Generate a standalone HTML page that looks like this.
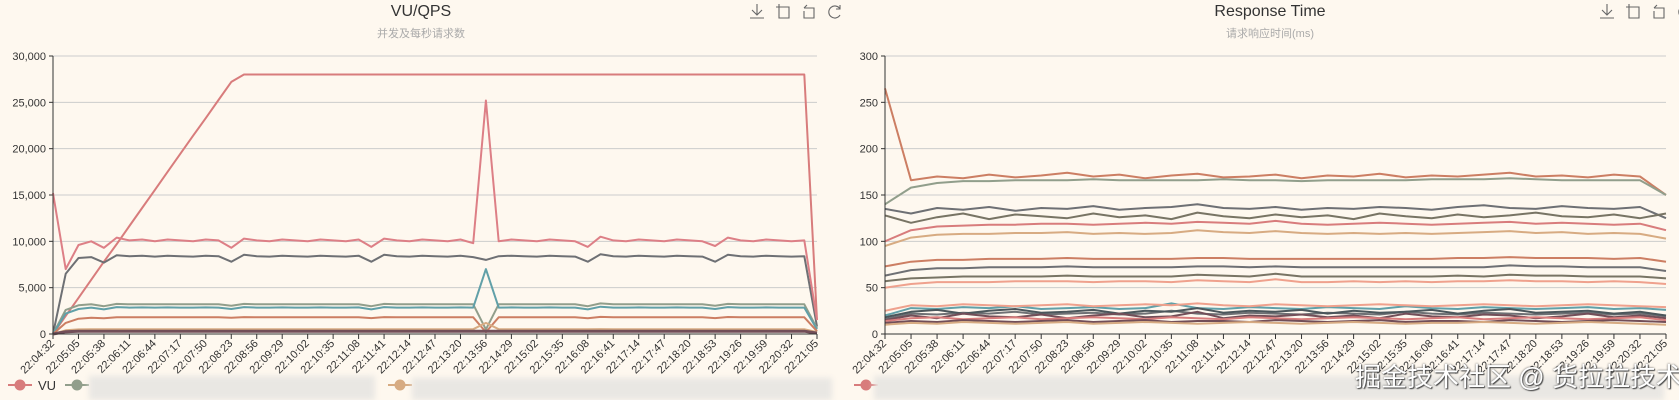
<!DOCTYPE html>
<html><head><meta charset="utf-8"><style>
html,body{margin:0;padding:0;background:#fef8ef;}
body{width:1679px;height:400px;overflow:hidden;position:relative;font-family:"Liberation Sans","Noto Sans CJK SC",sans-serif;}
svg{position:absolute;left:0;top:0;}
.blur{position:absolute;background:#e9e7e3;filter:blur(3px);}
.wm{position:absolute;left:1355px;top:357px;font-size:26px;color:#fff;text-shadow:0 0 2px #555,1px 1px 1px #444;font-family:"Liberation Sans","Noto Sans CJK SC",sans-serif;white-space:nowrap;}
</style></head><body>
<svg id="chart" width="1679" height="400"></svg>
<div class="blur" style="left:89px;top:376px;width:286px;height:24px"></div>
<div class="blur" style="left:412px;top:378px;width:420px;height:22px"></div>
<div class="blur" style="left:874px;top:376px;width:790px;height:24px"></div>
<div class="wm">掘金技术社区 @ 货拉拉技术</div>
<script>
const xLabels = ["22:04:32","22:05:05","22:05:38","22:06:11","22:06:44","22:07:17","22:07:50","22:08:23","22:08:56","22:09:29","22:10:02","22:10:35","22:11:08","22:11:41","22:12:14","22:12:47","22:13:20","22:13:56","22:14:29","22:15:02","22:15:35","22:16:08","22:16:41","22:17:14","22:17:47","22:18:20","22:18:53","22:19:26","22:19:59","22:20:32","22:21:05"];
const leftTicks = [0,5000,10000,15000,20000,25000,30000];
const leftTickLabels = ["0","5,000","10,000","15,000","20,000","25,000","30,000"];
const rightTicks = [0,50,100,150,200,250,300];
const rightTickLabels = ["0","50","100","150","200","250","300"];

const vu = [0,1950,3900,5850,7800,9700,11650,13600,15550,17500,19450,21400,23300,25250,27200,28000,28000,28000,28000,28000,28000,28000,28000,28000,28000,28000,28000,28000,28000,28000,28000,28000,28000,28000,28000,28000,28000,28000,28000,28000,28000,28000,28000,28000,28000,28000,28000,28000,28000,28000,28000,28000,28000,28000,28000,28000,28000,28000,28000,28000,1500];
const qpsTotal = [15200,7000,9600,10000,9300,10400,10100,10200,10000,10200,10100,10000,10200,10100,9300,10300,10100,10000,10200,10100,10000,10200,10100,10000,10200,9400,10300,10100,10000,10200,10100,10000,10200,9800,25200,10000,10200,10100,10000,10200,10100,10000,9400,10500,10100,10000,10200,10100,10000,10200,10100,10000,9500,10400,10100,10000,10200,10100,10000,10100,1500];
const qpsA = [0,6500,8200,8300,7700,8500,8400,8450,8350,8450,8400,8350,8450,8400,7800,8550,8400,8350,8450,8400,8350,8450,8400,8350,8450,7800,8550,8400,8350,8450,8400,8350,8450,8300,8000,8400,8450,8400,8350,8450,8400,8350,7800,8600,8400,8350,8450,8400,8350,8450,8400,8350,7800,8550,8400,8350,8450,8400,8350,8400,800];
const qpsB = [0,2600,3100,3200,3000,3250,3200,3220,3200,3220,3200,3200,3220,3200,3050,3250,3200,3200,3220,3200,3200,3220,3200,3200,3220,3000,3250,3200,3200,3220,3200,3200,3220,3200,500,3200,3220,3200,3200,3220,3200,3200,3000,3300,3200,3200,3220,3200,3200,3220,3200,3200,3050,3250,3200,3200,3220,3200,3200,3200,600];
const qpsC = [0,2200,2700,2850,2650,2900,2850,2870,2850,2870,2850,2850,2870,2850,2700,2900,2850,2850,2870,2850,2850,2870,2850,2850,2870,2650,2900,2850,2850,2870,2850,2850,2870,2850,7000,2850,2870,2850,2850,2870,2850,2850,2650,2950,2850,2850,2870,2850,2850,2870,2850,2850,2700,2900,2850,2850,2870,2850,2850,2850,500];
const qpsD = [0,1200,1650,1750,1700,1800,1800,1810,1800,1810,1800,1800,1810,1800,1750,1820,1800,1800,1810,1800,1800,1810,1800,1800,1810,1720,1820,1800,1800,1810,1800,1800,1810,1800,200,1800,1810,1800,1800,1810,1800,1800,1700,1850,1800,1800,1810,1800,1800,1810,1800,1800,1720,1830,1800,1800,1810,1800,1800,1800,300];
const qpsE = [0,400,500,520,510,520,520,520,520,520,520,520,520,520,510,520,520,520,520,520,520,520,520,520,520,510,520,520,520,520,520,520,520,520,1200,520,520,520,520,520,520,520,510,530,520,520,520,520,520,520,520,520,510,520,520,520,520,520,520,520,200];
const qpsF = [0,250,300,300,300,300,300,300,300,300,300,300,300,300,300,300,300,300,300,300,300,300,300,300,300,300,300,300,300,300,300,300,300,300,300,300,300,300,300,300,300,300,300,300,300,300,300,300,300,300,300,300,300,300,300,300,300,300,300,300,100];

const r1 = [265,166,170,168,172,169,171,174,170,172,168,171,173,169,170,172,168,171,170,173,169,171,170,172,174,170,171,169,172,170,150];
const r2 = [140,158,163,165,165,166,166,166,167,166,166,166,166,167,166,166,165,166,166,166,166,167,167,167,168,167,166,166,166,166,150];
const r3 = [135,130,136,134,137,133,136,135,138,134,136,137,140,136,135,137,134,136,135,137,136,134,137,139,136,135,138,136,135,137,125];
const r4 = [128,120,126,130,124,129,127,125,130,126,128,124,131,127,125,129,126,128,124,130,127,125,129,126,128,131,127,126,129,125,130];
const r5 = [100,112,116,117,118,118,119,119,118,119,120,119,121,120,119,122,119,118,119,120,119,118,119,120,121,119,120,119,118,119,112];
const r6 = [95,104,107,108,108,109,109,110,108,109,108,109,112,110,109,111,109,108,109,108,109,108,109,110,111,109,110,108,109,108,103];
const r7 = [73,78,80,80,81,81,81,82,81,81,81,81,82,82,81,81,81,81,81,81,81,81,82,82,83,82,82,82,81,82,78];
const r8 = [63,69,71,71,72,72,72,73,72,72,72,72,73,73,72,73,72,72,72,72,72,72,72,72,74,73,73,72,72,72,68];
const r9 = [57,60,61,62,62,62,62,63,62,62,62,62,64,63,62,65,62,62,62,62,62,62,63,62,64,63,63,62,62,62,60];
const r10 = [50,54,56,56,56,57,57,57,56,57,57,56,58,57,56,59,56,56,57,56,57,56,57,57,58,57,57,56,57,56,54];
const l1 = [20,28,27,29,28,30,27,28,29,27,28,33,28,27,29,28,27,29,28,27,30,28,27,29,28,27,28,29,27,28,26];
const l2 = [25,31,30,32,31,30,31,32,30,31,32,31,33,31,30,32,31,30,31,32,31,30,31,32,31,30,31,32,31,30,29];
const l3 = [18,24,26,22,25,27,23,24,26,22,25,24,28,23,25,24,26,22,25,23,24,26,22,25,27,23,24,25,22,24,20];
const l4 = [15,20,17,22,19,18,21,17,20,22,18,19,24,17,20,19,21,18,20,17,22,19,18,21,20,17,19,22,18,20,17];
const l5 = [12,14,13,15,14,13,14,15,13,14,15,13,14,14,13,15,14,13,14,15,13,14,14,13,15,14,13,14,15,14,13];
const l6 = [14,17,18,16,17,18,16,17,18,17,16,18,17,16,18,17,16,17,18,17,16,17,18,16,17,18,17,16,17,18,15];
const l7 = [10,12,11,13,12,11,12,13,11,12,13,12,11,12,13,12,11,12,13,12,11,12,12,13,12,11,12,13,12,11,10];
const l8 = [16,22,21,23,22,24,21,22,23,21,22,25,22,21,23,22,21,23,22,21,24,22,21,23,22,21,22,23,21,22,19];

const NS = "http://www.w3.org/2000/svg";
const svg = document.getElementById("chart");
function mk(tag, attrs, parent) {
  const e = document.createElementNS(NS, tag);
  for (const k in attrs) e.setAttribute(k, attrs[k]);
  (parent || svg).appendChild(e);
  return e;
}

function drawChart(prefix, x0, x1, y0, y1, yMax, ticks, tickLabels, series, title, subtitle, titleX, iconX) {
  const g = mk("g", {});
  
  
  const yScale = v => y0 - (v / yMax) * (y0 - y1);
  const xScaleTick = i => x0 + i * (x1 - x0) / (xLabels.length - 1);
  // title
  const t = mk("text", {x: titleX, y: 16, "text-anchor": "middle", "font-size": 16, fill: "#333"}, g);
  t.textContent = title;
  
  
  const st = mk("text", {x: titleX, y: 37, "text-anchor": "middle", "font-size": 11, fill: "#aaa"}, g);
  st.textContent = subtitle;
  
  
  // grid + y ticks
  ticks.forEach((v, i) => {
    const y = yScale(v);
    if (v > 0) {
      const gl = mk("line", {x1: x0, x2: x1, y1: y, y2: y, stroke: "#ccc", "stroke-width": 1}, g);
      
      
    }
    mk("line", {x1: x0 - 4, x2: x0, y1: y, y2: y, stroke: "#333"}, g);
    const lb = mk("text", {x: x0 - 7, y: y + 4, "text-anchor": "end", "font-size": 11, fill: "#333"}, g);
    lb.textContent = tickLabels[i];
    
    
  });
  // x ticks
  xLabels.forEach((s, i) => {
    const x = xScaleTick(i);
    mk("line", {x1: x, x2: x, y1: y0, y2: y0 + 5, stroke: "#333"}, g);
    const lb = mk("text", {x: x + 2, y: y0 + 10, "text-anchor": "end", "font-size": 11, fill: "#333", transform: `rotate(-45 ${x + 2} ${y0 + 10})`}, g);
    lb.textContent = s;
    
    
  });
  // series
  series.forEach(s => {
    const n = s.data.length;
    const xs = i => x0 + i * (x1 - x0) / (n - 1);
    const d = s.data.map((v, i) => (i ? "L" : "M") + xs(i).toFixed(1) + " " + yScale(v).toFixed(1)).join("");
    const p = mk("path", {d: d, fill: "none", stroke: s.color, "stroke-width": s.w || 2, "stroke-linejoin": "round"}, g);
    
    
  });
  // axes
  mk("line", {x1: x0, x2: x0, y1: y1, y2: y0, stroke: "#333"}, g);
  mk("line", {x1: x0, x2: x1, y1: y0, y2: y0, stroke: "#333"}, g);
  // toolbox icons
  const icons = ["download", "zoom", "zoom-reset", "restore"];
  icons.forEach((nm, i) => {
    const ix = iconX + i * 26, iy = 4;
    const ig = mk("g", {stroke: "#666", fill: "none", "stroke-width": 1.1}, g);
    
    
    if (i === 0) {
      mk("path", {d: `M${ix+7} ${iy} V${iy+11} M${ix+2} ${iy+6} L${ix+7} ${iy+11} L${ix+12} ${iy+6} M${ix} ${iy+14} H${ix+14}`}, ig);
    } else if (i === 1) {
      mk("path", {d: `M${ix+3} ${iy} V${iy+14} H${ix+13} V${iy+3} H${ix}`}, ig);
    } else if (i === 2) {
      mk("path", {d: `M${ix+2} ${iy+4} H${ix+12} V${iy+14} H${ix+2} V${iy+7} M${ix+2} ${iy+4} L${ix+5} ${iy+1}`}, ig);
    } else {
      mk("path", {d: `M${ix+12} ${iy+5} A6 6 0 1 0 ${ix+12} ${iy+11} M${ix+12} ${iy+1} V${iy+5} H${ix+8}`}, ig);
    }
  });
}

drawChart("vu-qps", 53, 817, 334, 56, 30000, leftTicks, leftTickLabels, [
  {name: "vu", data: vu, color: "#d87c7c"},
  {name: "qps-a", data: qpsA, color: "#6e7074"},
  {name: "qps-b", data: qpsB, color: "#919e8b"},
  {name: "qps-c", data: qpsC, color: "#61a0a8"},
  {name: "qps-d", data: qpsD, color: "#cc7e63"},
  {name: "qps-e", data: qpsE, color: "#d7ab82"},
  {name: "qps-f", data: qpsF, color: "#724e58", w: 3},
  {name: "qps-total", data: qpsTotal, color: "#dd7f86"}
], "VU/QPS", "并发及每秒请求数", 421, 750);

drawChart("response-time", 885, 1666, 334, 56, 300, rightTicks, rightTickLabels, [
  {name: "r1", data: r1, color: "#cc7e63"},
  {name: "r2", data: r2, color: "#919e8b"},
  {name: "r3", data: r3, color: "#6e7074"},
  {name: "r4", data: r4, color: "#787464"},
  {name: "r5", data: r5, color: "#d87c7c"},
  {name: "r6", data: r6, color: "#d7ab82"},
  {name: "r7", data: r7, color: "#cc7e63"},
  {name: "r8", data: r8, color: "#6e7074"},
  {name: "r9", data: r9, color: "#787464"},
  {name: "r10", data: r10, color: "#efa18d"},
  {name: "l1", data: l1, color: "#61a0a8"},
  {name: "l2", data: l2, color: "#efa18d"},
  {name: "l8", data: l8, color: "#6e7074"},
  {name: "l3", data: l3, color: "#4b565b"},
  {name: "l4", data: l4, color: "#724e58"},
  {name: "l6", data: l6, color: "#d87c7c"},
  {name: "l5", data: l5, color: "#724e58"},
  {name: "l7", data: l7, color: "#d7ab82"}
], "Response Time", "请求响应时间(ms)", 1270, 1600);

// legends
function legendItem(cx, color, label, name) {
  const g = mk("g", {});
  
  
  mk("line", {x1: cx - 12, x2: cx + 12, y1: 385, y2: 385, stroke: color, "stroke-width": 2}, g);
  mk("circle", {cx: cx, cy: 385, r: 5, fill: color, stroke: color}, g);
  if (label) {
    const t = mk("text", {x: cx + 18, y: 390, "font-size": 13, fill: "#333"}, g);
    t.textContent = label;
  }
}
legendItem(20, "#d87c7c", "VU", "legend-entry-vu");
legendItem(77, "#919e8b", "", "legend-entry-qps-b");
legendItem(400, "#d7ab82", "", "legend-entry-qps-e");
legendItem(866, "#d87c7c", "", "legend-entry-response-1");
</script>
</body></html>
